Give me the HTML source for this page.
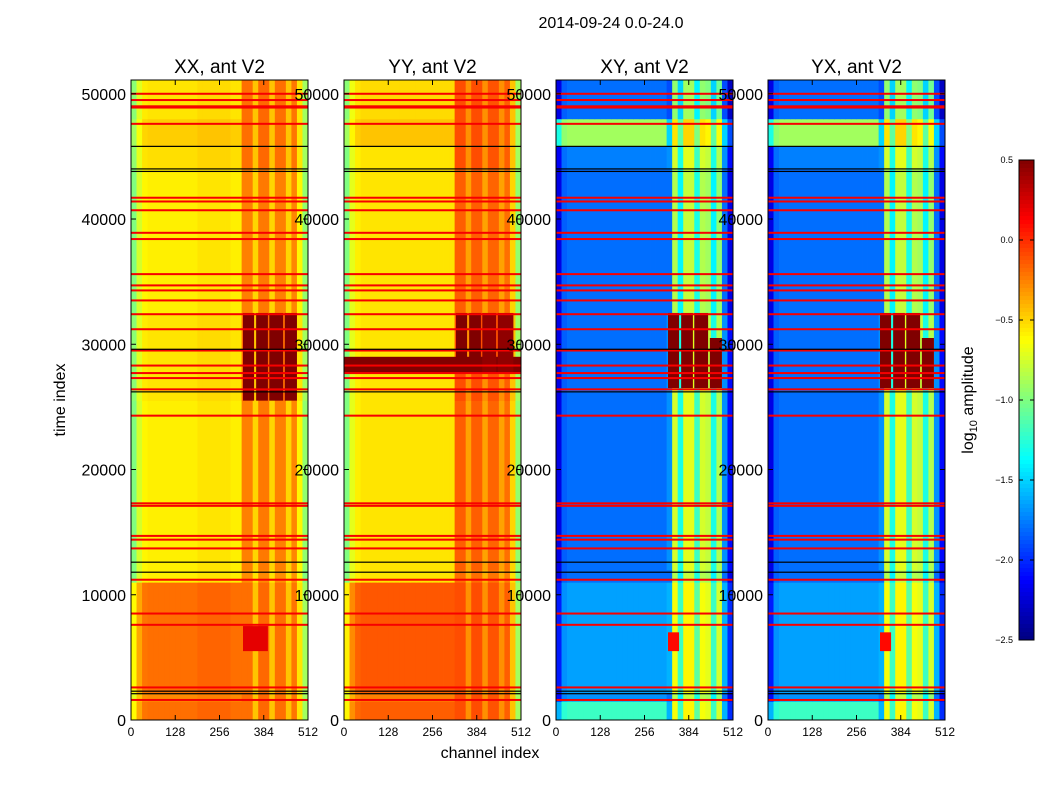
<!DOCTYPE html>
<html><head><meta charset="utf-8"><style>
html,body{margin:0;padding:0;background:#fff;}
svg{display:block;font-family:"Liberation Sans","DejaVu Sans",sans-serif;}
</style></head><body>
<svg id="fig" width="1050" height="800" viewBox="0 0 1050 800">
<rect width="1050" height="800" fill="#fff"/>
<text x="611" y="28" font-size="16" text-anchor="middle">2014-09-24 0.0-24.0</text>
<text x="0" y="0" font-size="16" text-anchor="middle" transform="translate(65,400) rotate(-90)">time index</text>
<text x="490" y="758" font-size="16" text-anchor="middle">channel index</text>
<text x="0" y="0" font-size="16" text-anchor="middle" transform="translate(973,400) rotate(-90)">log<tspan font-size="11" dy="4">10</tspan><tspan dy="-4"> amplitude</tspan></text>
</svg>
<script>
// ---- data ----
const panelTitles = ["XX, ant V2","YY, ant V2","XY, ant V2","YX, ant V2"];
const yTicks = [0,10000,20000,30000,40000,50000];
const xTicks = [0,128,256,384,512];
const cbTicks = [0.5,0.0,-0.5,-1.0,-1.5,-2.0,-2.5];
const cbLabels = ["0.5","0.0","\u22120.5","\u22121.0","\u22121.5","\u22122.0","\u22122.5"];
const timeEdges = [0,1500,2200,11000,12000,25500,32500,44000,45800,48000,51100];
// channel bins of 16 channels (32 bins)
const chanXX = [-1.0,-0.75,-0.6,-0.58,-0.58,-0.58,-0.58,-0.58,-0.58,-0.58,-0.58,-0.58,-0.55,-0.55,-0.55,-0.55,-0.55,-0.55,-0.58,-0.58,-0.3,-0.3,-0.55,-0.28,-0.28,-0.55,-0.3,-0.3,-0.55,-0.32,-0.65,-1.0];
const chanYY = [-1.0,-0.7,-0.58,-0.55,-0.55,-0.55,-0.55,-0.55,-0.55,-0.55,-0.55,-0.55,-0.55,-0.55,-0.55,-0.55,-0.55,-0.55,-0.55,-0.55,-0.2,-0.2,-0.4,-0.2,-0.2,-0.4,-0.22,-0.22,-0.4,-0.25,-0.55,-1.0];
const chanXY = [-2.2,-1.85,-1.8,-1.8,-1.8,-1.8,-1.8,-1.8,-1.8,-1.8,-1.8,-1.8,-1.8,-1.8,-1.8,-1.8,-1.8,-1.8,-1.8,-1.8,-1.8,-0.85,-1.4,-0.8,-0.8,-1.3,-0.85,-0.9,-1.4,-0.95,-1.8,-2.2];
const chanYX = [-2.2,-1.85,-1.8,-1.8,-1.8,-1.8,-1.8,-1.8,-1.8,-1.8,-1.8,-1.8,-1.8,-1.8,-1.8,-1.8,-1.8,-1.8,-1.8,-1.8,-1.8,-0.85,-1.4,-0.8,-0.8,-1.3,-0.85,-0.9,-1.4,-0.95,-1.8,-2.2];
const leftXX = [0.38,0.3,0.38,0,0,0.03,0,0.05,0.1,0.03];
const rightXX = [0.1,0.1,0.1,0,0.05,0.1,0.05,0.1,0.1,0.1];
const leftYY = [0.4,0.3,0.42,0,0,0,0,0,0.1,0.03];
const rightYY = [0.1,0.1,0.1,0,0.05,0.1,0.05,0.1,0.1,0.1];
const leftXY = [0.6,0.1,0.15,0,0,0,0,0.05,0.9,0];
const rightXY = [0.2,0,0.2,0,0.1,0.1,0,0.1,0.3,-0.1];
const leftYX = [0.6,0.1,0.15,0,0,0,0,0.05,0.9,0];
const rightYX = [0.2,0,0.2,0,0.1,0.1,0,0.1,0.3,-0.1];
// hot blocks: [t0,t1,c0,c1,value]
const hotXX = [[25500,32500,324,356,0.5],[25500,32500,362,396,0.5],[25500,32500,400,440,0.5],[25500,32500,445,480,0.5],[5500,7500,324,396,0.2]];
const hotYY = [[27700,29000,0,512,0.5],[27700,32500,324,356,0.5],[27700,32500,362,396,0.5],[27700,32500,400,440,0.45],[27700,32500,445,490,0.45]];
const hotXY = [[26500,32500,324,356,0.5],[26500,32500,362,396,0.5],[26500,32500,400,440,0.5],[26500,30500,445,480,0.5],[5500,7000,324,356,0.1]];
const hotYX = [[26500,32500,324,356,0.5],[26500,32500,362,396,0.5],[26500,32500,400,440,0.5],[26500,30500,445,480,0.5],[5500,7000,324,356,0.1]];
const redLines = [50000,49500,49000,48900,47600,41700,41400,40700,38900,38400,35600,34700,34300,33500,32400,31200,29500,28300,27700,27300,26400,24300,17300,17100,14700,14400,13700,11200,8500,7600,2600,1600];
const blackLines = [45800,44000,43800,29600,26200,12600,11800,2300,2100];
const redValue = 0.15;

const panels = [
 {x0:131,chan:chanXX,left:leftXX,right:rightXX,hot:hotXX},
 {x0:344,chan:chanYY,left:leftYY,right:rightYY,hot:hotYY},
 {x0:556,chan:chanXY,left:leftXY,right:rightXY,hot:hotXY},
 {x0:768,chan:chanYX,left:leftYX,right:rightYX,hot:hotYX}
];
const W=177, Y0=80, Y1=720, TMAX=51100, CMAX=512, VMIN=-2.5, VMAX=0.5;
const NS="http://www.w3.org/2000/svg";
const svg=document.getElementById('fig');
function el(tag,attrs,parent){const e=document.createElementNS(NS,tag);for(const k in attrs)e.setAttribute(k,attrs[k]);(parent||svg).appendChild(e);return e;}
function cl(x){return Math.max(0,Math.min(1,x));}
function jet(v){const f=cl((v-VMIN)/(VMAX-VMIN));const r=cl(1.5-Math.abs(4*f-3)),g=cl(1.5-Math.abs(4*f-2)),b=cl(1.5-Math.abs(4*f-1));return `rgb(${Math.round(r*255)},${Math.round(g*255)},${Math.round(b*255)})`;}
function yScale(t){return Y1-(t/TMAX)*(Y1-Y0);}

panels.forEach((p,pi)=>{
  const xs=c=>p.x0+c/CMAX*W;
  const g=el('g',{});
  
  
  const nb=p.chan.length, bw=CMAX/nb;
  for(let ti=0;ti<timeEdges.length-1;ti++){
    for(let ci=0;ci<nb;ci++){
      const c0=ci*bw, off=(c0>=320?p.right[ti]:p.left[ti]);
      const v=p.chan[ci]+off;
      const r=el('rect',{x:xs(c0),y:yScale(timeEdges[ti+1]),width:W/nb+0.4,height:yScale(timeEdges[ti])-yScale(timeEdges[ti+1])+0.4,fill:jet(v)},g);
      
      
    }
  }
  p.hot.forEach(h=>{
    const r=el('rect',{x:xs(h[2]),y:yScale(h[1]),width:xs(h[3])-xs(h[2]),height:yScale(h[0])-yScale(h[1]),fill:jet(h[4])},g);
    
    
  });
  redLines.forEach(t=>{
    const r=el('rect',{x:p.x0,y:yScale(t)-1,width:W,height:2,fill:jet(redValue)},g);
    
    
  });
  blackLines.forEach(t=>{
    const r=el('rect',{x:p.x0,y:yScale(t)-0.6,width:W,height:1.2,fill:'#000'},g);
    
    
  });
  const fr=el('rect',{x:p.x0,y:Y0,width:W,height:Y1-Y0,fill:'none',stroke:'#000','stroke-width':1});
  
  
  const tt=el('text',{x:p.x0+W/2,y:73,'font-size':19,'text-anchor':'middle'});
  tt.textContent=panelTitles[pi];
  
  
  yTicks.forEach(t=>{
    const y=yScale(t);
    el('line',{x1:p.x0,x2:p.x0+5,y1:y,y2:y,stroke:'#000'});
    el('line',{x1:p.x0+W,x2:p.x0+W-5,y1:y,y2:y,stroke:'#000'});
    const lb=el('text',{x:p.x0-5,y:y+6,'font-size':16,'text-anchor':'end'});
    lb.textContent=t;
    
    
  });
  xTicks.forEach(c=>{
    const x=xs(c);
    el('line',{x1:x,x2:x,y1:Y1,y2:Y1-5,stroke:'#000'});
    el('line',{x1:x,x2:x,y1:Y0,y2:Y0+5,stroke:'#000'});
    const lb=el('text',{x:x,y:736,'font-size':12,'text-anchor':'middle'});
    lb.textContent=c;
    
    
  });
});

// colorbar
const CBX=1019, CBW=15, CBY0=160, CBY1=640;
const cb=el('g',{});


const N=120;
for(let i=0;i<N;i++){
  const v=VMAX-(i+0.5)/N*(VMAX-VMIN);
  el('rect',{x:CBX,y:CBY0+i*(CBY1-CBY0)/N,width:CBW,height:(CBY1-CBY0)/N+0.5,fill:jet(v)},cb);
}
el('rect',{x:CBX,y:CBY0,width:CBW,height:CBY1-CBY0,fill:'none',stroke:'#000'},cb);
cbTicks.forEach((v,i)=>{
  const y=CBY0+(VMAX-v)/(VMAX-VMIN)*(CBY1-CBY0);
  el('line',{x1:CBX,x2:CBX+4,y1:y,y2:y,stroke:'#000'},cb);
  el('line',{x1:CBX+CBW,x2:CBX+CBW-4,y1:y,y2:y,stroke:'#000'},cb);
  const lb=el('text',{x:CBX-6,y:y+3,'font-size':9,'text-anchor':'end'},cb);
  lb.textContent=cbLabels[i];
  
  
});
</script>
</body></html>
